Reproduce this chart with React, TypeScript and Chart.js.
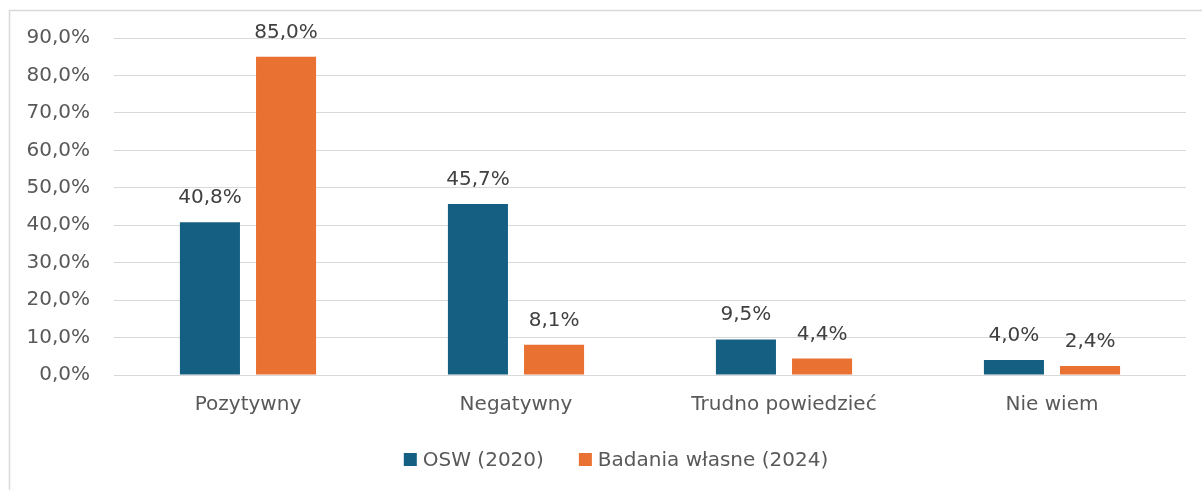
import React, { useEffect, useRef } from "react";
import { Chart, registerables } from "chart.js";

Chart.register(...registerables);

const categories = ["Pozytywny", "Negatywny", "Trudno powiedzieć", "Nie wiem"];
const seriesNames = ["OSW (2020)", "Badania własne (2024)"];
const osw2020 = [40.8, 45.7, 9.5, 4.0];
const badania2024 = [85.0, 8.1, 4.4, 2.4];
const seriesColors = ["#156082", "#E97132"];
const yMin = 0;
const yMax = 90;
const yStep = 10;

const W = 1202;
const H = 490;
const FONT = "'DejaVu Sans', sans-serif";
const FONT_SIZE = 20;
const LEGEND_CENTER_X = 616;
const LEGEND_BASELINE = 466;

const fmt = (v: number) => v.toFixed(1).replace(".", ",") + "%";

const borderPlugin = {
  id: "outerBorder",
  beforeDraw(chart: any) {
    const ctx = chart.ctx;
    ctx.save();
    ctx.strokeStyle = "#d9d9d9";
    ctx.lineWidth = 1.5;
    ctx.beginPath();
    ctx.moveTo(9.5, H + 2);
    ctx.lineTo(9.5, 10.5);
    ctx.lineTo(W + 2, 10.5);
    ctx.stroke();
    ctx.restore();
  },
};

const dataLabelPlugin = {
  id: "dataLabels",
  afterDatasetsDraw(chart: any) {
    const ctx = chart.ctx;
    ctx.save();
    ctx.font = `${FONT_SIZE}px ${FONT}`;
    ctx.fillStyle = "#404040";
    ctx.textAlign = "center";
    ctx.textBaseline = "alphabetic";
    chart.data.datasets.forEach((ds: any, di: number) => {
      const meta = chart.getDatasetMeta(di);
      meta.data.forEach((bar: any, i: number) => {
        ctx.fillText(fmt(ds.data[i]), bar.x, bar.y - 19);
      });
    });
    ctx.restore();
  },
};

const legendPlugin = {
  id: "customLegend",
  afterDraw(chart: any) {
    const ctx = chart.ctx;
    ctx.save();
    ctx.font = `${FONT_SIZE}px ${FONT}`;
    const box = 13;
    const gapBoxText = 6;
    const gapItems = 35;
    const widths = chart.data.datasets.map((ds: any) => ctx.measureText(ds.label).width);
    const total =
      widths.reduce((a: number, b: number) => a + b, 0) +
      chart.data.datasets.length * (box + gapBoxText) +
      gapItems * (chart.data.datasets.length - 1);
    let x = LEGEND_CENTER_X - total / 2;
    chart.data.datasets.forEach((ds: any, i: number) => {
      ctx.fillStyle = ds.backgroundColor;
      ctx.fillRect(x, LEGEND_BASELINE - box, box, box);
      x += box + gapBoxText;
      ctx.fillStyle = "#595959";
      ctx.textAlign = "left";
      ctx.textBaseline = "alphabetic";
      ctx.fillText(ds.label, x, LEGEND_BASELINE);
      x += widths[i] + gapItems;
    });
    ctx.restore();
  },
};

export default function App() {
  const ref = useRef<HTMLCanvasElement | null>(null);
  useEffect(() => {
    if (!ref.current) return;
    const chart = new Chart(ref.current, {
      type: "bar",
      data: {
        labels: categories,
        datasets: [
          {
            label: seriesNames[0],
            data: osw2020,
            backgroundColor: seriesColors[0],
            categoryPercentage: 0.568,
            barPercentage: 0.789,
          },
          {
            label: seriesNames[1],
            data: badania2024,
            backgroundColor: seriesColors[1],
            categoryPercentage: 0.568,
            barPercentage: 0.789,
          },
        ],
      },
      options: {
        responsive: false,
        animation: false,
        devicePixelRatio: 1,
        layout: { padding: { left: 0, right: 16, top: 38, bottom: 0 } },
        plugins: {
          legend: { display: false },
          tooltip: { enabled: false },
        },
        scales: {
          x: {
            grid: { display: false, drawTicks: false },
            border: { display: false },
            ticks: {
              font: { family: FONT, size: FONT_SIZE },
              color: "#595959",
              padding: 18,
            },
            afterFit(scale: any) {
              scale.height = 115;
            },
          },
          y: {
            min: yMin,
            max: yMax,
            grid: { color: "#d9d9d9", lineWidth: 1, drawTicks: false },
            border: { display: false },
            ticks: {
              stepSize: yStep,
              font: { family: FONT, size: FONT_SIZE },
              color: "#595959",
              padding: 24,
              callback: (v: any) => fmt(Number(v)),
            },
            afterFit(scale: any) {
              scale.width = 114;
            },
          },
        },
      },
      plugins: [borderPlugin, dataLabelPlugin, legendPlugin],
    });
    return () => chart.destroy();
  }, []);
  return (
    <div style={{ position: "absolute", left: 0, top: 0, width: W, height: H, background: "#fff" }}>
      <canvas ref={ref} width={W} height={H} style={{ display: "block" }} />
    </div>
  );
}
